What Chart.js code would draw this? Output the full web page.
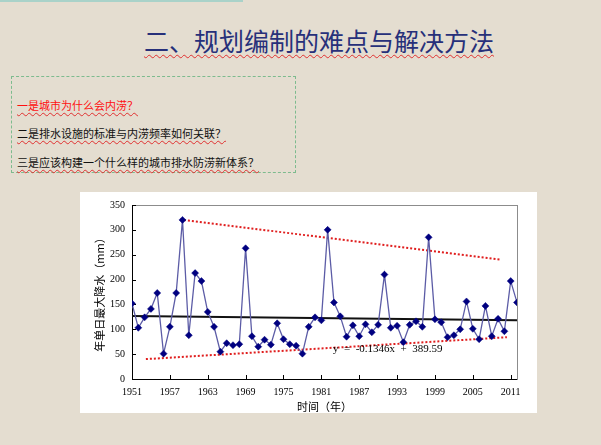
<!DOCTYPE html>
<html>
<head>
<meta charset="utf-8">
<script src="https://cdn.jsdelivr.net/npm/chart.js@4.4.1/dist/chart.umd.min.js"></script>
<style>
  body { margin: 0; width: 601px; height: 445px; background: #e4ddd0; position: relative; overflow: hidden;
         font-family: "Noto Sans CJK SC", sans-serif; }
  #topBar { position: absolute; left: 0; top: 0; width: 243px; height: 2px; background: #a9d2c9; }
  #title { position: absolute; left: 144px; top: 25px; font-size: 25px; line-height: 30px; color: #27307a;
           white-space: nowrap; text-decoration: underline wavy #e03030; text-decoration-thickness: 1px;
           text-underline-offset: 3px; }
  #box { position: absolute; left: 11px; top: 76px; width: 283px; height: 95px; border: 1px dashed #7dbb8e; }
  .q { position: absolute; left: 17px; font-size: 11px; line-height: 14px; white-space: nowrap; color: #111;
       text-decoration: underline wavy #e03030; text-decoration-thickness: 1px; text-underline-offset: 2px; }
  #chartWrap { position: absolute; left: 80px; top: 192px; width: 457px; height: 221px; background: #fff; }
  #eq { position: absolute; left: 333px; top: 342px; font-family: "Liberation Serif", serif; font-size: 11px;
        line-height: 13px; color: #000; white-space: pre; }
</style>
</head>
<body>
<div id="topBar"></div>
<div id="title">二、规划编制的难点与解决方法</div>
<div id="box"></div>
<div class="q" style="top:98px;color:#ff1010;">一是城市为什么会内涝？</div>
<div class="q" style="top:126px;">二是排水设施的标准与内涝频率如何关联？</div>
<div class="q" style="top:155px;">三是应该构建一个什么样的城市排水防涝新体系？</div>
<div id="chartWrap"><canvas id="rainChart"></canvas></div>
<div id="eq">y  =  -0.1346x  +  389.59</div>

<script>
// years on the x axis
var years = [1951,1952,1953,1954,1955,1956,1957,1958,1959,1960,
             1961,1962,1963,1964,1965,1966,1967,1968,1969,1970,
             1971,1972,1973,1974,1975,1976,1977,1978,1979,1980,
             1981,1982,1983,1984,1985,1986,1987,1988,1989,1990,
             1991,1992,1993,1994,1995,1996,1997,1998,1999,2000,
             2001,2002,2003,2004,2005,2006,2007,2008,2009,2010,
             2011,2012];

// annual max one-day rainfall (mm)
var rainfall = [152,103,124,141,173, 51,105,173,320, 88,
                213,197,135,105, 55, 72, 68, 70,263, 86,
                 65, 79, 69,112, 80, 70, 67, 51,105,124,
                118,300,154,126, 85,108, 86,110, 94,109,
                210,103,107, 74,109,116,105,285,120,114,
                 84, 88,100,156,101, 80,147, 86,121, 96,
                197,154];

// linear trend line end points
var trendYears = [1951, 2012];
var trendValues = [126.5, 118];

// red dotted envelope lines
var upperYears = [1958.6, 2009.4];
var upperValues = [321, 240];
var lowerYears = [1953.2, 2010.4];
var lowerValues = [40, 84];

var xTickYears = [1951,1957,1963,1969,1975,1981,1987,1993,1999,2005,2011];
var yTicks = [0,50,100,150,200,250,300,350];

var toPoints = (xs, ys) => xs.map((x, i) => ({x: x, y: ys[i]}));

// plot frame + inside tick marks like the excel original
var frameAndTicks = {
    id: 'frameAndTicks',
    beforeDatasetsDraw(chart) {
        var ctx = chart.ctx, a = chart.chartArea;
        var xs = chart.scales.x, ys = chart.scales.y;
        ctx.save();
        ctx.strokeStyle = '#8c8c8c';
        ctx.lineWidth = 1;
        ctx.strokeRect(Math.round(a.left) + 0.5, Math.round(a.top) + 0.5,
                       Math.round(a.right - a.left), Math.round(a.bottom - a.top));
        ctx.strokeStyle = '#000';
        ctx.beginPath();
        ctx.moveTo(Math.round(a.left) + 0.5, a.top);
        ctx.lineTo(Math.round(a.left) + 0.5, Math.round(a.bottom) + 0.5);
        ctx.lineTo(a.right, Math.round(a.bottom) + 0.5);
        yTicks.forEach(v => {
            var py = Math.round(ys.getPixelForValue(v)) + 0.5;
            ctx.moveTo(a.left, py);
            ctx.lineTo(a.left + 4, py);
        });
        xTickYears.forEach(v => {
            var px = Math.round(xs.getPixelForValue(v)) + 0.5;
            ctx.moveTo(px, a.bottom);
            ctx.lineTo(px, a.bottom - 4);
        });
        ctx.stroke();
        ctx.restore();
    }
};

var serif = { family: 'Liberation Serif', size: 10 };

new Chart(document.getElementById('rainChart'), {
    type: 'line',
    data: {
        datasets: [
            {
                label: 'rainfall',
                data: toPoints(years, rainfall),
                borderColor: '#5c5ca6',
                borderWidth: 1.3,
                pointStyle: 'rectRot',
                pointRadius: 3.5,
                pointBackgroundColor: '#000080',
                pointBorderColor: '#000080',
                pointBorderWidth: 0.5,
                tension: 0
            },
            {
                label: 'trend',
                data: toPoints(trendYears, trendValues),
                borderColor: '#111',
                borderWidth: 2,
                pointRadius: 0
            },
            {
                label: 'upper',
                data: toPoints(upperYears, upperValues),
                borderColor: '#e01e1e',
                borderWidth: 2,
                borderDash: [2, 2],
                pointRadius: 0
            },
            {
                label: 'lower',
                data: toPoints(lowerYears, lowerValues),
                borderColor: '#e01e1e',
                borderWidth: 2,
                borderDash: [2, 2],
                pointRadius: 0
            }
        ]
    },
    options: {
        responsive: true,
        maintainAspectRatio: false,
        animation: false,
        layout: { padding: { top: 8.5, right: 20, bottom: 0, left: 0 } },
        plugins: { legend: { display: false }, tooltip: { enabled: false } },
        scales: {
            x: {
                type: 'linear',
                min: 1951,
                max: 2012,
                afterBuildTicks: s => { s.ticks = xTickYears.map(v => ({ value: v })); },
                afterFit: s => { s.height = 34; },
                grid: { display: false, drawTicks: false },
                border: { display: false },
                ticks: { autoSkip: false, maxRotation: 0, padding: 7, color: '#000', font: serif,
                         callback: v => String(v) },
                title: { display: true, text: '时间（年）', color: '#000', padding: { top: 0, bottom: 0 },
                         font: { family: 'Noto Sans CJK SC', size: 11 } }
            },
            y: {
                min: 0,
                max: 350,
                afterBuildTicks: s => { s.ticks = yTicks.map(v => ({ value: v })); },
                afterFit: s => { s.width = 52; },
                grid: { display: false, drawTicks: false },
                border: { display: false },
                ticks: { padding: 7, color: '#000', font: serif },
                title: { display: true, text: '年单日最大降水（mm）', color: '#000', padding: { top: 13.4, bottom: 0 },
                         font: { family: 'Noto Sans CJK SC', size: 11 } }
            }
        }
    },
    plugins: [frameAndTicks]
});
</script>
</body>
</html>
